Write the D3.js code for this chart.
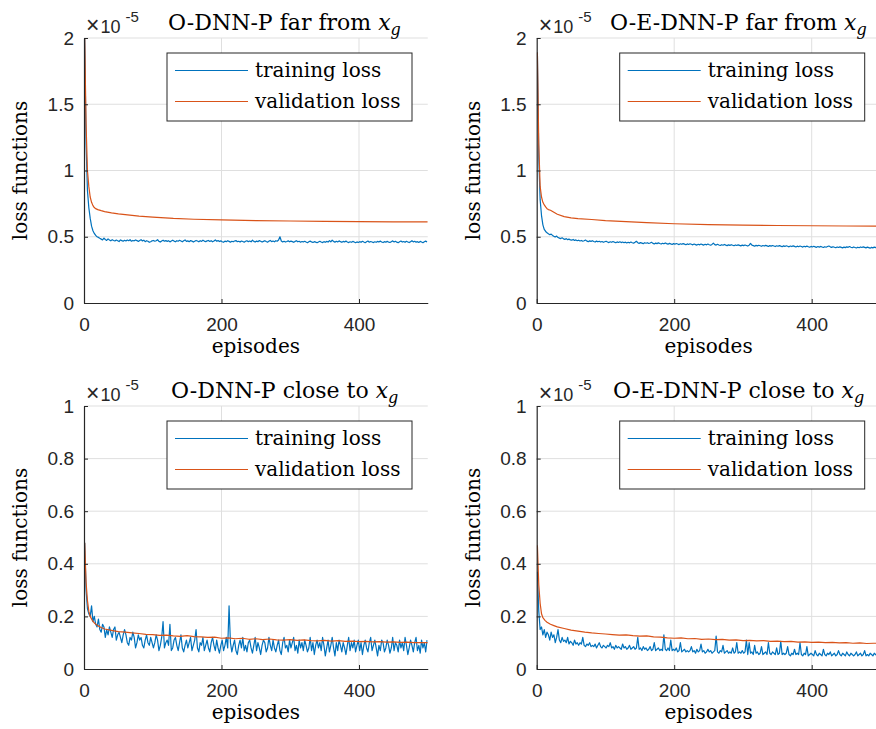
<!DOCTYPE html>
<html>
<head>
<meta charset="utf-8">
<title>Loss functions</title>
<script src="https://cdn.jsdelivr.net/npm/d3@7"></script>
<style>
  body { margin: 0; background: #fff; }
  svg { display: block; }
  .tick text { font-family: "Liberation Sans", Arial, sans-serif; font-size: 19px; fill: #262626; }
  .serif { font-family: "DejaVu Serif", "Liberation Serif", serif; fill: #000; }
  .sans { font-family: "Liberation Sans", Arial, sans-serif; fill: #262626; }
</style>
</head>
<body>
<svg id="chart" width="876" height="729"></svg>
<script>
// training loss sampled every 2 episodes (1, 3, ..., 499), values in units of 1e-5
const trainEpisodes = d3.range(1, 500, 2);

const farDnnTrain = [
  2.0,1.2,0.85,0.72,0.64,0.58,0.545,0.525,0.51,0.50,
  0.495,0.488,0.482,0.476,0.49,0.479,0.472,0.484,0.476,0.469,
  0.478,0.472,0.468,0.475,0.47,0.464,0.476,0.471,0.466,0.473,
  0.468,0.475,0.47,0.478,0.466,0.472,0.469,0.476,0.471,0.465,
  0.472,0.478,0.468,0.474,0.463,0.47,0.466,0.458,0.462,0.469,
  0.472,0.466,0.47,0.478,0.465,0.46,0.468,0.474,0.466,0.471,
  0.465,0.47,0.461,0.468,0.474,0.467,0.462,0.47,0.466,0.473,
  0.468,0.462,0.47,0.476,0.465,0.469,0.463,0.471,0.467,0.46,
  0.466,0.472,0.468,0.462,0.47,0.465,0.474,0.467,0.463,0.469,
  0.472,0.465,0.47,0.462,0.468,0.476,0.466,0.471,0.464,0.469,
  0.462,0.458,0.467,0.463,0.47,0.465,0.459,0.466,0.462,0.468,
  0.471,0.463,0.466,0.46,0.468,0.464,0.459,0.466,0.47,0.463,
  0.468,0.462,0.474,0.465,0.46,0.467,0.463,0.471,0.466,0.46,
  0.465,0.47,0.464,0.459,0.467,0.472,0.463,0.468,0.462,0.47,
  0.466,0.475,0.5,0.468,0.461,0.466,0.46,0.464,0.469,0.462,
  0.467,0.463,0.458,0.465,0.47,0.462,0.466,0.459,0.464,0.461,
  0.466,0.46,0.455,0.462,0.467,0.461,0.457,0.463,0.459,0.455,
  0.461,0.466,0.46,0.456,0.463,0.458,0.465,0.46,0.471,0.462,
  0.474,0.465,0.459,0.466,0.461,0.469,0.463,0.458,0.465,0.461,
  0.467,0.46,0.456,0.462,0.458,0.465,0.46,0.455,0.461,0.457,
  0.463,0.458,0.466,0.46,0.455,0.462,0.468,0.459,0.464,0.46,
  0.456,0.462,0.458,0.465,0.46,0.467,0.461,0.456,0.463,0.459,
  0.465,0.46,0.457,0.463,0.469,0.461,0.466,0.459,0.455,0.462,
  0.468,0.46,0.464,0.458,0.466,0.461,0.456,0.463,0.47,0.461,
  0.466,0.459,0.463,0.457,0.465,0.46,0.455,0.462,0.467,0.461
];

const farEdnnTrain = [
  1.89,1.1,0.78,0.66,0.59,0.555,0.54,0.53,0.522,0.515,
  0.52,0.51,0.503,0.498,0.505,0.494,0.49,0.486,0.492,0.484,
  0.48,0.486,0.478,0.482,0.476,0.474,0.48,0.472,0.476,0.47,
  0.474,0.468,0.472,0.466,0.47,0.475,0.467,0.463,0.469,0.465,
  0.47,0.464,0.46,0.467,0.462,0.466,0.46,0.464,0.458,0.462,
  0.466,0.46,0.456,0.462,0.458,0.464,0.459,0.455,0.461,0.457,
  0.462,0.456,0.46,0.455,0.459,0.453,0.458,0.454,0.46,0.455,
  0.452,0.458,0.466,0.455,0.45,0.456,0.452,0.448,0.455,0.451,
  0.455,0.449,0.453,0.458,0.45,0.446,0.452,0.448,0.454,0.449,
  0.445,0.451,0.447,0.453,0.448,0.444,0.45,0.446,0.442,0.448,
  0.444,0.449,0.445,0.441,0.447,0.443,0.448,0.444,0.44,0.446,
  0.442,0.447,0.443,0.439,0.445,0.441,0.437,0.443,0.439,0.445,
  0.441,0.437,0.443,0.439,0.445,0.44,0.436,0.442,0.452,0.441,
  0.437,0.443,0.438,0.434,0.44,0.436,0.442,0.437,0.433,0.439,
  0.435,0.44,0.436,0.432,0.438,0.434,0.439,0.435,0.431,0.437,
  0.433,0.438,0.434,0.43,0.436,0.45,0.437,0.433,0.429,0.435,
  0.431,0.436,0.432,0.428,0.434,0.43,0.435,0.431,0.427,0.433,
  0.429,0.434,0.43,0.426,0.432,0.428,0.433,0.429,0.425,0.431,
  0.427,0.432,0.428,0.424,0.43,0.426,0.431,0.427,0.423,0.429,
  0.425,0.43,0.426,0.422,0.428,0.424,0.429,0.425,0.421,0.427,
  0.423,0.428,0.424,0.42,0.426,0.422,0.427,0.423,0.419,0.425,
  0.421,0.426,0.43,0.424,0.42,0.425,0.421,0.417,0.423,0.419,
  0.424,0.42,0.416,0.422,0.418,0.424,0.42,0.426,0.421,0.417,
  0.423,0.419,0.415,0.421,0.417,0.423,0.419,0.424,0.42,0.416,
  0.422,0.418,0.414,0.42,0.416,0.422,0.418,0.423,0.419,0.415
];

const closeDnnTrain = [
  0.48,0.3,0.23,0.21,0.2,0.24,0.18,0.2,0.17,0.16,
  0.19,0.15,0.14,0.17,0.16,0.12,0.15,0.13,0.16,0.14,
  0.12,0.15,0.16,0.11,0.13,0.14,0.12,0.1,0.13,0.15,
  0.13,0.1,0.09,0.12,0.11,0.14,0.12,0.08,0.1,0.13,
  0.11,0.12,0.09,0.08,0.11,0.13,0.1,0.09,0.12,0.1,
  0.08,0.1,0.13,0.11,0.07,0.09,0.12,0.18,0.08,0.1,
  0.11,0.09,0.17,0.07,0.08,0.11,0.12,0.09,0.07,0.1,
  0.13,0.08,0.065,0.09,0.11,0.08,0.1,0.12,0.07,0.09,
  0.11,0.15,0.08,0.065,0.1,0.09,0.12,0.07,0.09,0.11,
  0.08,0.065,0.1,0.12,0.09,0.07,0.11,0.08,0.06,0.09,
  0.11,0.07,0.09,0.12,0.08,0.24,0.1,0.065,0.09,0.11,
  0.07,0.055,0.09,0.11,0.08,0.12,0.07,0.09,0.065,0.1,
  0.11,0.08,0.06,0.09,0.12,0.07,0.1,0.08,0.055,0.09,
  0.11,0.1,0.065,0.08,0.12,0.09,0.07,0.11,0.08,0.065,
  0.09,0.11,0.07,0.055,0.1,0.12,0.08,0.09,0.065,0.11,
  0.08,0.1,0.12,0.07,0.09,0.06,0.11,0.08,0.1,0.07,
  0.11,0.09,0.065,0.08,0.12,0.07,0.1,0.055,0.09,0.11,
  0.08,0.1,0.07,0.12,0.09,0.05,0.08,0.11,0.065,0.09,
  0.12,0.08,0.05,0.1,0.07,0.11,0.09,0.065,0.1,0.08,
  0.055,0.09,0.12,0.07,0.1,0.08,0.11,0.065,0.09,0.11,
  0.07,0.1,0.055,0.09,0.11,0.08,0.065,0.1,0.12,0.07,
  0.09,0.11,0.08,0.05,0.09,0.07,0.11,0.1,0.065,0.08,
  0.11,0.09,0.06,0.08,0.12,0.07,0.1,0.09,0.065,0.11,
  0.08,0.1,0.07,0.12,0.09,0.055,0.08,0.11,0.09,0.065,
  0.1,0.12,0.07,0.09,0.06,0.11,0.08,0.1,0.065,0.11
];

const closeEdnnTrain = [
  0.37,0.22,0.15,0.16,0.13,0.15,0.12,0.14,0.13,0.11,
  0.14,0.12,0.13,0.1,0.12,0.15,0.11,0.1,0.12,0.105,
  0.11,0.1,0.12,0.095,0.105,0.1,0.09,0.11,0.095,0.1,
  0.09,0.1,0.095,0.12,0.09,0.085,0.095,0.09,0.1,0.085,
  0.09,0.085,0.095,0.08,0.09,0.1,0.085,0.08,0.09,0.085,
  0.08,0.09,0.085,0.1,0.08,0.085,0.075,0.09,0.08,0.085,
  0.08,0.075,0.095,0.08,0.085,0.075,0.08,0.09,0.075,0.08,
  0.085,0.075,0.08,0.12,0.075,0.08,0.07,0.085,0.075,0.08,
  0.07,0.075,0.085,0.07,0.075,0.1,0.07,0.075,0.08,0.07,
  0.075,0.07,0.13,0.075,0.07,0.08,0.07,0.11,0.07,0.075,
  0.07,0.08,0.065,0.07,0.1,0.065,0.07,0.075,0.065,0.07,
  0.065,0.07,0.085,0.065,0.07,0.06,0.075,0.065,0.07,0.095,
  0.065,0.07,0.06,0.065,0.075,0.065,0.07,0.06,0.065,0.07,
  0.125,0.065,0.06,0.07,0.065,0.09,0.06,0.065,0.07,0.06,
  0.065,0.06,0.08,0.06,0.065,0.1,0.06,0.065,0.06,0.07,
  0.06,0.065,0.11,0.055,0.1,0.06,0.065,0.055,0.09,0.06,
  0.065,0.055,0.06,0.085,0.055,0.06,0.065,0.055,0.1,0.06,
  0.055,0.065,0.06,0.055,0.08,0.055,0.06,0.105,0.055,0.06,
  0.055,0.06,0.085,0.055,0.05,0.06,0.055,0.075,0.055,0.06,
  0.055,0.1,0.055,0.05,0.06,0.055,0.085,0.05,0.055,0.06,
  0.055,0.05,0.07,0.055,0.05,0.06,0.055,0.05,0.075,0.055,
  0.05,0.06,0.055,0.065,0.05,0.055,0.06,0.05,0.055,0.07,
  0.055,0.05,0.06,0.055,0.05,0.065,0.055,0.05,0.06,0.055,
  0.05,0.055,0.065,0.05,0.055,0.06,0.05,0.055,0.07,0.05,
  0.055,0.05,0.06,0.055,0.05,0.06,0.055,0.05,0.055,0.05
];

// validation loss, read at selected episodes
const farValEpisodes = [1,3,5,7,9,11,13,15,17,20,25,30,40,50,60,80,100,130,160,200,250,300,350,400,450,500];
const farDnnVal  = [2.0,1.35,1.0,0.88,0.8,0.76,0.735,0.72,0.712,0.705,0.697,0.69,0.68,0.672,0.667,0.656,0.648,0.638,0.632,0.627,0.622,0.619,0.616,0.614,0.613,0.612];
const farEdnnVal = [1.89,1.2,0.88,0.8,0.76,0.74,0.725,0.712,0.705,0.7,0.685,0.67,0.652,0.642,0.637,0.63,0.622,0.614,0.607,0.598,0.592,0.588,0.585,0.583,0.581,0.58];

const closeValEpisodes = [1,3,5,7,9,12,15,20,25].concat(d3.range(30, 501, 10));
const closeDnnVal = [
  0.48,0.33,0.26,0.22,0.2,0.185,0.175,0.165,0.158,
  0.152,0.147,0.142,0.14,0.137,0.135,0.132,0.131,
  0.128,0.129,0.126,0.124,0.127,0.123,0.122,0.12,0.121,0.117,
  0.118,0.115,0.117,0.113,0.115,0.112,0.114,0.111,0.11,0.112,
  0.109,0.111,0.108,0.107,0.109,0.106,0.108,0.105,0.106,0.104,
  0.105,0.103,0.104,0.102,0.103,0.101,0.102,0.1,0.1,0.1
];
const closeEdnnVal = [
  0.47,0.32,0.25,0.21,0.195,0.185,0.178,0.17,0.165,
  0.16,0.154,0.148,0.144,0.14,0.137,0.135,0.133,
  0.131,0.129,0.13,0.127,0.125,0.126,0.122,0.121,0.118,0.117,
  0.118,0.115,0.116,0.113,0.114,0.112,0.113,0.11,0.111,0.108,
  0.109,0.107,0.108,0.105,0.106,0.104,0.105,0.102,0.103,0.101,
  0.102,0.1,0.101,0.099,0.1,0.098,0.099,0.097,0.098,0.098
];

const xTicks = [0, 200, 400];
const farYTicks = [0, 0.5, 1, 1.5, 2];
const closeYTicks = [0, 0.2, 0.4, 0.6, 0.8, 1];
const legendLabels = ["training loss", "validation loss"];

const trainColor = "#0072BD";
const valColor = "#D95319";
const axisColor = "#262626";
const gridColor = "#dfdfdf";

const svg = d3.select("#chart");

const panels = [
  { left: 84, top: 38, bottom: 303, yMax: 2, yTicks: farYTicks, name: "O-DNN-P far from ", titleX: 168,
    train: farDnnTrain, valX: farValEpisodes, val: farDnnVal },
  { left: 536.7, top: 38, bottom: 303, yMax: 2, yTicks: farYTicks, name: "O-E-DNN-P far from ", titleX: 610,
    train: farEdnnTrain, valX: farValEpisodes, val: farEdnnVal },
  { left: 84, top: 406, bottom: 669, yMax: 1, yTicks: closeYTicks, name: "O-DNN-P close to ", titleX: 171,
    train: closeDnnTrain, valX: closeValEpisodes, val: closeDnnVal },
  { left: 536.7, top: 406, bottom: 669, yMax: 1, yTicks: closeYTicks, name: "O-E-DNN-P close to ", titleX: 613,
    train: closeEdnnTrain, valX: closeValEpisodes, val: closeEdnnVal }
];

panels.forEach((p, i) => drawPanel(p, i));

function drawPanel(p, i) {
  const x = d3.scaleLinear().domain([0, 500]).range([p.left, p.left + 343.75]);
  const y = d3.scaleLinear().domain([0, p.yMax]).range([p.bottom, p.top]);
  const g = svg.append("g");

  // grid lines
  g.append("g").selectAll("line").data(xTicks.filter(d => d > 0)).join("line")
    .attr("x1", d => x(d)).attr("x2", d => x(d))
    .attr("y1", y(0)).attr("y2", y(p.yMax))
    .attr("stroke", gridColor).attr("stroke-width", 1);
  g.append("g").selectAll("line").data(p.yTicks.filter(d => d > 0)).join("line")
    .attr("x1", x(0)).attr("x2", x(500))
    .attr("y1", d => y(d)).attr("y2", d => y(d))
    .attr("stroke", gridColor).attr("stroke-width", 1);

  // clip the curves to the axes box
  const clipId = "clip" + i;
  svg.append("clipPath").attr("id", clipId).append("rect")
    .attr("x", x(0)).attr("y", y(p.yMax))
    .attr("width", x(500) - x(0)).attr("height", y(0) - y(p.yMax));

  const lines = g.append("g").attr("clip-path", `url(#${clipId})`);
  lines.append("path")
    .datum(p.train.map((v, k) => [trainEpisodes[k], v]))
    .attr("fill", "none").attr("stroke", trainColor).attr("stroke-width", 1.2)
    .attr("stroke-linejoin", "round")
    .attr("d", d3.line().x(d => x(d[0])).y(d => y(d[1])));
  lines.append("path")
    .datum(p.val.map((v, k) => [p.valX[k], v]))
    .attr("fill", "none").attr("stroke", valColor).attr("stroke-width", 1.2)
    .attr("stroke-linejoin", "round")
    .attr("d", d3.line().x(d => x(d[0])).y(d => y(d[1])));

  // axes (box off, ticks inside)
  const xAxis = g.append("g").attr("transform", `translate(0,${y(0)})`)
    .call(d3.axisBottom(x).tickValues(xTicks).tickSizeInner(-4).tickSizeOuter(0).tickPadding(15));
  const yAxis = g.append("g").attr("transform", `translate(${x(0)},0)`)
    .call(d3.axisLeft(y).tickValues(p.yTicks).tickFormat(d => String(d))
      .tickSizeInner(-4).tickSizeOuter(0).tickPadding(10));
  [xAxis, yAxis].forEach(a => {
    a.select(".domain").attr("stroke", axisColor).attr("stroke-width", 1.2);
    a.selectAll(".tick line").attr("stroke", axisColor);
    a.attr("font-family", null).attr("font-size", null);
  });

  // exponent label
  const ex = g.append("text").attr("class", "sans").attr("x", x(0) + 2).attr("y", p.top - 5)
    .attr("font-size", 18);
  ex.append("tspan").attr("font-size", 23).text("\u00d7");
  ex.append("tspan").attr("dx", 1).text("10");
  ex.append("tspan").attr("dx", 5).attr("dy", -11).attr("font-size", 15).text("-5");

  // title
  const t = g.append("text").attr("class", "serif").attr("x", p.titleX).attr("y", p.top - 8)
    .attr("font-size", 22);
  t.append("tspan").text(p.name);
  t.append("tspan").attr("font-style", "italic").text("x");
  t.append("tspan").attr("font-style", "italic").attr("font-size", 16).attr("dy", 5).text("g");

  // axis labels
  g.append("text").attr("class", "serif").attr("font-size", 20)
    .attr("text-anchor", "middle")
    .attr("transform", `translate(${x(0) - 57},${(y(0) + y(p.yMax)) / 2}) rotate(-90)`)
    .text("loss functions");
  g.append("text").attr("class", "serif").attr("font-size", 20)
    .attr("text-anchor", "middle")
    .attr("x", (x(0) + x(500)) / 2).attr("y", y(0) + 50)
    .text("episodes");

  // legend
  const lx = x(0) + 83, ly = y(p.yMax) + 15;
  const lg = g.append("g").attr("transform", `translate(${lx},${ly})`);
  lg.append("rect").attr("width", 245).attr("height", 68)
    .attr("fill", "#fff").attr("stroke", axisColor).attr("stroke-width", 1);
  [trainColor, valColor].forEach((c, k) => {
    const yy = 17.5 + k * 31;
    lg.append("line").attr("x1", 8).attr("x2", 81).attr("y1", yy).attr("y2", yy)
      .attr("stroke", c).attr("stroke-width", 1.2);
    lg.append("text").attr("class", "serif").attr("font-size", 20)
      .attr("x", 88).attr("y", yy + 6.5).text(legendLabels[k]);
  });
}
</script>
</body>
</html>
